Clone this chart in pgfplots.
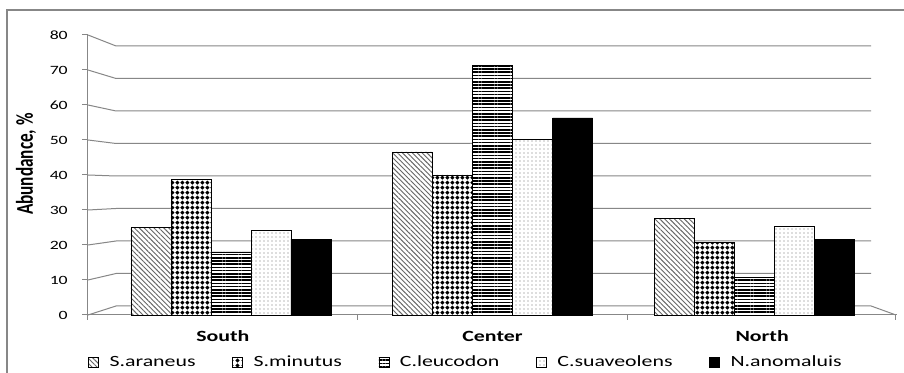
\documentclass[border=0pt]{standalone}
\usepackage{fontspec}
\setmainfont{Carlito}
\usepackage{pgfplots}
\pgfplotsset{compat=1.18}
\usetikzlibrary{patterns,patterns.meta}

\pgfdeclarepatternformonly{mydiamonds}{\pgfqpoint{0pt}{0pt}}{\pgfqpoint{4pt}{4pt}}{\pgfqpoint{4pt}{4pt}}{%
  \pgfpathmoveto{\pgfqpoint{2pt}{0.3pt}}%
  \pgfpathlineto{\pgfqpoint{3.7pt}{2pt}}%
  \pgfpathlineto{\pgfqpoint{2pt}{3.7pt}}%
  \pgfpathlineto{\pgfqpoint{0.3pt}{2pt}}%
  \pgfpathclose\pgfusepath{fill}}

\definecolor{gridgray}{RGB}{135,135,135}
\newcommand{\sx}[1]{\tikz[baseline=(t.base)]\node[inner sep=0pt, outer sep=0pt, xscale=1.4, yscale=1, transform shape](t){#1};}
\newcommand{\sy}[1]{\tikz[baseline=(t.base)]\node[inner sep=0pt, outer sep=0pt, yscale=1.4, xscale=1, transform shape](t){#1};}

\pgfplotsset{
  legimg/.style={legend image code/.code={\draw[draw=black, line width=0.5pt, ##1] (0pt,-3.75pt) rectangle (7.5pt,3.75pt);}},
  araneus/.style={draw=black, line width=0.5pt, fill=white,
    postaction={pattern={Lines[angle=-45,distance=2.6pt,line width=0.7pt]}, pattern color=black!60}, legimg},
  minutus/.style={draw=black, line width=0.5pt, fill=white,
    postaction={pattern=mydiamonds, pattern color=black}, legimg},
  leucodon/.style={draw=black, line width=0.5pt, fill=white,
    postaction={pattern={Lines[angle=0,distance=2.4pt,line width=1.1pt]}, pattern color=black}, legimg},
  suaveolens/.style={draw=black, line width=0.5pt, fill=white,
    postaction={pattern={Dots[distance=3pt,radius=0.45pt]}, pattern color=black!55}, legimg},
  anomaluis/.style={draw=black, line width=0.5pt, fill=black, legimg},
}

\begin{document}
\begin{tikzpicture}
\useasboundingbox (-66pt,-43.5pt) rectangle (612pt,236.25pt);
\fill[white] (-66pt,-43.5pt) rectangle (612pt,236.25pt);
\draw[gridgray, line width=1.5pt] (-60.75pt,-43.5pt) -- (-60.75pt,228.75pt) -- (612pt,228.75pt);
\begin{axis}[
  at={(0pt,0pt)}, anchor=south west,
  scale only axis, width=606.75pt, height=210pt,
  xmin=0, xmax=3, ymin=0, ymax=80,
  clip=false,
  axis x line*=bottom, axis y line*=left,
  axis line style={gridgray, line width=0.75pt, -},
  major tick length=0pt, tick align=inside,
  tick style={draw=none},
  ytick={0,10,20,30,40,50,60,70,80},
  yticklabels={\sx{0},\sx{10},\sx{20},\sx{30},\sx{40},\sx{50},\sx{60},\sx{70},\sx{80}},
  xtick={0.5,1.5,2.5},
  xticklabels={\sx{South},\sx{Center},\sx{North}},
  yticklabel style={anchor=east, inner sep=0pt, xshift=-15pt, font=\fontsize{9.5}{11}\selectfont},
  xticklabel style={anchor=base, inner sep=0pt, yshift=-20.25pt, font=\bfseries\fontsize{11.7}{13}\selectfont},
  ylabel={\sy{\bfseries\fontsize{12.9}{14}\selectfont Abundance, \%}},
  ylabel style={at={(axis description cs:-0.0766,0.539)}, anchor=center, inner sep=0pt},
  ybar=0pt, bar width=30pt,
  legend columns=5,
  legend style={at={(axis description cs:0,-0.168)}, anchor=west, draw=none, fill=none,
    inner sep=0pt, font=\fontsize{11.7}{13}\selectfont,
    nodes={inner sep=0pt},
    /tikz/every odd column/.append style={column sep=8pt},
    /tikz/every even column/.append style={column sep=27.5pt}},
]
% back wall grid and perspective connectors
\draw[gridgray, line width=0.75pt] (axis cs:0,0) -- (axis cs:0.104,2.571) -- (axis cs:2.904,2.571) -- (axis cs:2.996,0);
\draw[gridgray, line width=0.75pt] (axis cs:0,10) -- (axis cs:0.104,11.857) -- (axis cs:2.904,11.857);
\draw[gridgray, line width=0.75pt] (axis cs:0,20) -- (axis cs:0.104,21.143) -- (axis cs:2.904,21.143);
\draw[gridgray, line width=0.75pt] (axis cs:0,30) -- (axis cs:0.104,30.429) -- (axis cs:2.904,30.429);
\draw[gridgray, line width=0.75pt] (axis cs:0,40) -- (axis cs:0.104,39.714) -- (axis cs:2.904,39.714);
\draw[gridgray, line width=0.75pt] (axis cs:0,50) -- (axis cs:0.104,49.0) -- (axis cs:2.904,49.0);
\draw[gridgray, line width=0.75pt] (axis cs:0,60) -- (axis cs:0.104,58.286) -- (axis cs:2.904,58.286);
\draw[gridgray, line width=0.75pt] (axis cs:0,70) -- (axis cs:0.104,67.571) -- (axis cs:2.904,67.571);
\draw[gridgray, line width=0.75pt] (axis cs:0,80) -- (axis cs:0.104,76.857) -- (axis cs:2.904,76.857);
% tick marks
\pgfplotsinvokeforeach{0,10,20,30,40,50,60,70,80}{\draw[gridgray, line width=0.75pt] (axis cs:0,#1) -- ++(-4.5pt,0pt);}
\pgfplotsinvokeforeach{0,1,2,2.996}{\draw[gridgray, line width=0.75pt] (axis cs:#1,0) -- ++(0pt,-3.75pt);}

\addplot[araneus] coordinates {(0.53,25) (1.5,46.6) (2.47,27.6)};
\addplot[minutus] coordinates {(0.53,38.7) (1.5,40) (2.47,20.7)};
\addplot[leucodon] coordinates {(0.53,18) (1.5,71.2) (2.47,10.8)};
\addplot[suaveolens] coordinates {(0.53,24.3) (1.5,50.2) (2.47,25.2)};
\addplot[anomaluis] coordinates {(0.53,21.7) (1.5,56.3) (2.47,21.7)};
\legend{\sx{S.araneus}, \sx{S.minutus}, \sx{C.leucodon}, \sx{C.suaveolens}, \sx{N.anomaluis}}
\end{axis}
\end{tikzpicture}
\end{document}
